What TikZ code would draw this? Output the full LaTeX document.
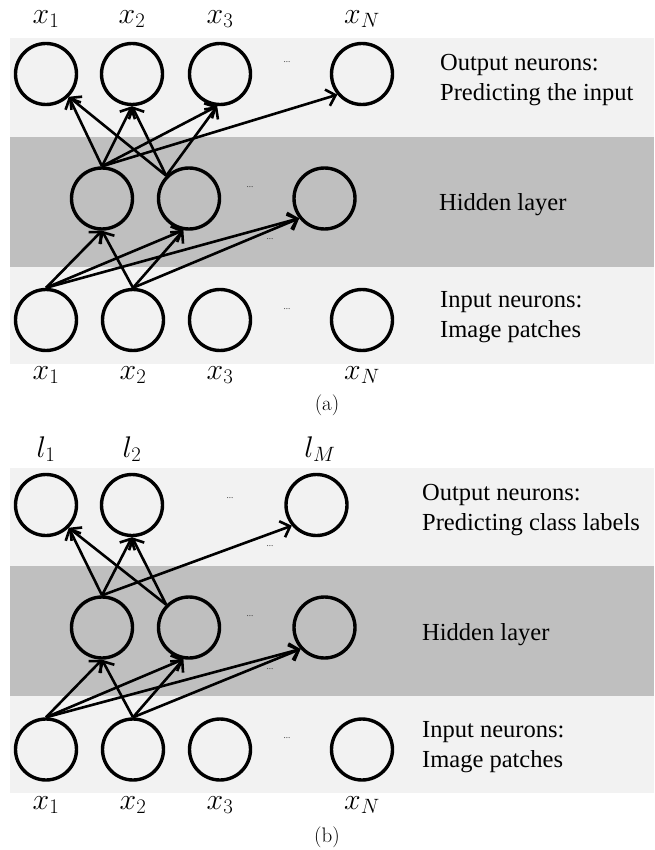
\documentclass[tikz,border=0pt]{standalone}
\usepackage{graphicx}
\usepackage{fontspec}
\newfontfamily\tnr{Liberation Serif}
\usetikzlibrary{arrows.meta}
\definecolor{bandlight}{RGB}{242,242,242}
\definecolor{banddark}{RGB}{191,191,191}
\newcommand{\mlab}[1]{\scalebox{1.2}{$#1$}}
\tikzset{
 neuron/.style={circle,draw=black,line width=3.4pt,minimum size=61pt,inner sep=0pt},
 conn/.style={line width=2.6pt,-{Straight Barb[length=8.5pt,width=17pt]}},
 lbl/.style={font=\fontsize{24}{24}\selectfont,inner sep=0pt},
 desc/.style={font=\tnr\fontsize{24.5}{30}\selectfont,align=left,anchor=west,inner sep=0pt},
 elldots/.style={font=\tnr\fontsize{9}{9}\selectfont,inner sep=0pt,text=black!80},
 captext/.style={font=\fontsize{21}{21}\selectfont,inner sep=0pt},
}
\begin{document}
\begin{tikzpicture}[x=1pt,y=-1pt]
\useasboundingbox (0,0) rectangle (654,850);
% bands (a)
\fill[bandlight] (10,38) rectangle (654,137);
\fill[banddark] (10,137) rectangle (654,267);
\fill[bandlight] (10,267) rectangle (654,364);
% bands (b)
\fill[bandlight] (10,468) rectangle (654,566);
\fill[banddark] (10,566) rectangle (654,696);
\fill[bandlight] (10,696) rectangle (654,793);

% ---------- (a) ----------
\node[neuron] (ao1) at (46,74) {};
\node[neuron] (ao2) at (132,74) {};
\node[neuron] (ao3) at (220,74) {};
\node[neuron] (aoN) at (362,74) {};
\node[neuron] (ah1) at (102,198.5) {};
\node[neuron] (ah2) at (189,198.5) {};
\node[neuron] (ah3) at (324.5,198.5) {};
\node[neuron] (ai1) at (46,320) {};
\node[neuron] (ai2) at (133,320) {};
\node[neuron] (ai3) at (220,320) {};
\node[neuron] (aiN) at (362,320) {};

\node[lbl] (alo1) at (46,19) {\mlab{x_1}};
\node[lbl] (alo2) at (132,19) {\mlab{x_2}};
\node[lbl] (alo3) at (220,19) {\mlab{x_3}};
\node[lbl] (aloN) at (362,19) {\mlab{x_N}};
\node[lbl] (ali1) at (46,375) {\mlab{x_1}};
\node[lbl] (ali2) at (133,375) {\mlab{x_2}};
\node[lbl] (ali3) at (220,375) {\mlab{x_3}};
\node[lbl] (aliN) at (362,375) {\mlab{x_N}};

\node[elldots] (ad1) at (287,62) {...};
\node[elldots] (ad2) at (250,187) {...};
\node[elldots] (ad3) at (270,239) {...};
\node[elldots] (ad4) at (287,309) {...};

\node[desc] (adesco) at (440,80) {Output neurons:\\Predicting the input};
\node[desc] (adesch) at (439,205) {Hidden layer};
\node[desc] (adesci) at (440,317.5) {Input neurons:\\Image patches};
\node[captext] (acap) at (327,405) {(a)};

\draw[conn] (ah1.north) -- (ao1.south east);
\draw[conn] (ah1.north) -- (ao2.south);
\draw[conn] (ah1.north) -- (ao3.265);
\draw[conn] (ah1.north) -- (aoN.220);
\draw[conn] (ah2.north west) -- (ao1.south east);
\draw[conn] (ah2.north west) -- (ao2.south);
\draw[conn] (ah2.north west) -- (ao3.265);
\draw[conn] (ai1.north) -- (ah1.south);
\draw[conn] (ai1.north) -- (ah2.260);
\draw[conn] (ai1.north) -- (ah3.218);
\draw[conn] (ai2.north) -- (ah1.south);
\draw[conn] (ai2.north) -- (ah2.260);
\draw[conn] (ai2.north) -- (ah3.218);

% ---------- (b) ----------
\node[neuron] (bo1) at (46,505) {};
\node[neuron] (bo2) at (132,505) {};
\node[neuron] (boM) at (316.5,505) {};
\node[neuron] (bh1) at (102,627.5) {};
\node[neuron] (bh2) at (189,627.5) {};
\node[neuron] (bh3) at (324.5,627.5) {};
\node[neuron] (bi1) at (46,749.5) {};
\node[neuron] (bi2) at (133,749.5) {};
\node[neuron] (bi3) at (220,749.5) {};
\node[neuron] (biN) at (362,749.5) {};

\node[lbl] (blo1) at (46,449) {\mlab{l_1}};
\node[lbl] (blo2) at (132,449) {\mlab{l_2}};
\node[lbl] (bloM) at (320,449) {\mlab{l_M}};
\node[lbl] (bli1) at (46,805) {\mlab{x_1}};
\node[lbl] (bli2) at (133,805) {\mlab{x_2}};
\node[lbl] (bli3) at (220,805) {\mlab{x_3}};
\node[lbl] (bliN) at (362,805) {\mlab{x_N}};

\node[elldots] (bd1) at (230,498) {...};
\node[elldots] (bd2) at (270,546) {...};
\node[elldots] (bd3) at (250,616) {...};
\node[elldots] (bd4) at (270,669) {...};
\node[elldots] (bd5) at (287,738) {...};

\node[desc] (bdesco) at (422,510) {Output neurons:\\Predicting class labels};
\node[desc] (bdesch) at (422,635) {Hidden layer};
\node[desc] (bdesci) at (422,747.5) {Input neurons:\\Image patches};
\node[captext] (bcap) at (327,837) {(b)};

\draw[conn] (bh1.north) -- (bo1.south east);
\draw[conn] (bh1.north) -- (bo2.south);
\draw[conn] (bh1.north) -- (boM.220);
\draw[conn] (bh2.north west) -- (bo1.south east);
\draw[conn] (bh2.north west) -- (bo2.south);
\draw[conn] (bi1.north) -- (bh1.south);
\draw[conn] (bi1.north) -- (bh2.260);
\draw[conn] (bi1.north) -- (bh3.222);
\draw[conn] (bi2.north) -- (bh1.south);
\draw[conn] (bi2.north) -- (bh2.260);
\draw[conn] (bi2.north) -- (bh3.222);
\end{tikzpicture}
\end{document}
